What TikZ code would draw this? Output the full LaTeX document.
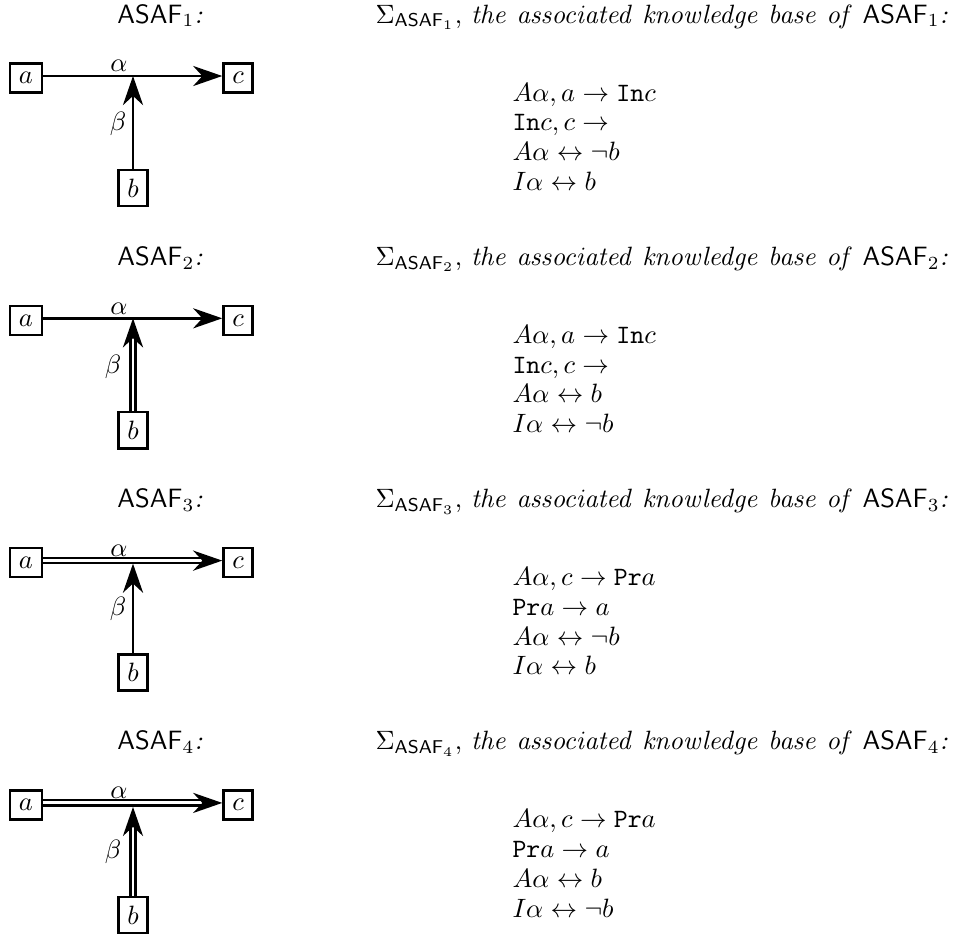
\documentclass[tikz,border=0pt]{standalone}
\usetikzlibrary{arrows.meta,calc}
\newcommand{\kbtitle}[1]{$\Sigma_{\mathsf{ASAF}_{#1}}$, $\mathit{the\ associated\ knowledge\ base\ of}$ $\mathsf{ASAF}_{#1}$\textit{:}}
\newcommand{\kbrows}[4]{\renewcommand{\arraystretch}{0.935}\begin{tabular}[t]{@{}l@{}}$#1$\\ $#2$\\ $#3$\\ $#4$\end{tabular}}
\begin{document}
\begin{tikzpicture}[x=0.3774pt,y=-0.3774pt,
  box/.style={draw,line width=0.9pt,inner sep=3.33pt},
  ln/.style={line width=0.9pt},
  dbl/.style={double,line width=0.9pt,double distance=1.1pt},
  tip/.style={-{Stealth[length=11pt,width=7.6pt,inset=3.5pt]}},
  lbl/.style={inner sep=0pt},
  ttl/.style={anchor=base,inner sep=0pt},
  kbt/.style={anchor=base west,inner sep=0pt},
  frm/.style={anchor=base west,inner sep=0pt}]
\useasboundingbox (0,0) rectangle (953,940);

% ---------- Panel 1 ----------
\begin{scope}
\coordinate (j1) at (133,76);
\node[box] (a1) at (26,78) {$a$};
\node[box] (c1) at (238,78) {$c$};
\node[box] (b1) at (133,188) {$b$};
\draw[ln,tip] (a1.east |- j1) -- (j1) -- (c1.west |- j1);
\draw[ln,tip] (b1.north) -- (j1);
\node[lbl] (al1) at (119,66) {$\alpha$};
\node[lbl] (be1) at (118,124) {$\beta$};
\node[ttl] (t1) at (160,23) {\textit{$\mathsf{ASAF}_1$:}};
\node[kbt] (s1) at (375,23) {\kbtitle{1}};
\node[frm] (f1) at (512,101) {\kbrows{A\alpha, a \rightarrow \mathtt{In}c}{\mathtt{In}c, c \rightarrow}{A\alpha \leftrightarrow \neg b}{I\alpha \leftrightarrow b}};
\end{scope}

% ---------- Panel 2 ----------
\begin{scope}[shift={(0,242.3)}]
\coordinate (j2) at (133,76);
\node[box] (a2) at (26,78) {$a$};
\node[box] (c2) at (238,78) {$c$};
\node[box] (b2) at (133,188) {$b$};
\draw[ln,tip] (a2.east |- j2) -- (j2) -- (c2.west |- j2);
\coordinate (n2) at ($(j2)+(0,20)$);
\draw[dbl] (b2.north) -- (n2);
\draw[ln,tip] (n2) -- (j2);
\node[lbl] (al2) at (119,66) {$\alpha$};
\node[lbl] (be2) at (113,125) {$\beta$};
\node[ttl] (t2) at (160,23) {\textit{$\mathsf{ASAF}_2$:}};
\node[kbt] (s2) at (375,23) {\kbtitle{2}};
\node[frm] (f2) at (512,101) {\kbrows{A\alpha, a \rightarrow \mathtt{In}c}{\mathtt{In}c, c \rightarrow}{A\alpha \leftrightarrow b}{I\alpha \leftrightarrow \neg b}};
\end{scope}

% ---------- Panel 3 ----------
\begin{scope}[shift={(0,484.6)}]
\coordinate (j3) at (133,76);
\node[box] (a3) at (26,78) {$a$};
\node[box] (c3) at (238,78) {$c$};
\node[box] (b3) at (133,188) {$b$};
\coordinate (m3) at ($(c3.west |- j3)+(-20,0)$);
\draw[dbl] (a3.east |- j3) -- (j3) -- (m3);
\draw[ln,tip] (m3) -- (c3.west |- j3);
\coordinate (k3) at ($(j3)+(0,3)$);
\draw[ln,tip] (b3.north) -- (k3);
\node[lbl] (al3) at (119,66) {$\alpha$};
\node[lbl] (be3) at (118,124) {$\beta$};
\node[ttl] (t3) at (160,23) {\textit{$\mathsf{ASAF}_3$:}};
\node[kbt] (s3) at (375,23) {\kbtitle{3}};
\node[frm] (f3) at (512,101) {\kbrows{A\alpha, c \rightarrow \mathtt{Pr}a}{\mathtt{Pr}a \rightarrow a}{A\alpha \leftrightarrow \neg b}{I\alpha \leftrightarrow b}};
\end{scope}

% ---------- Panel 4 ----------
\begin{scope}[shift={(0,726.9)}]
\coordinate (j4) at (133,76);
\node[box] (a4) at (26,78) {$a$};
\node[box] (c4) at (238,78) {$c$};
\node[box] (b4) at (133,188) {$b$};
\coordinate (m4) at ($(c4.west |- j4)+(-20,0)$);
\draw[dbl] (a4.east |- j4) -- (j4) -- (m4);
\draw[ln,tip] (m4) -- (c4.west |- j4);
\coordinate (k4) at ($(j4)+(0,4)$);
\coordinate (n4) at ($(k4)+(0,20)$);
\draw[dbl] (b4.north) -- (n4);
\draw[ln,tip] (n4) -- (k4);
\node[lbl] (al4) at (119,66) {$\alpha$};
\node[lbl] (be4) at (113,125) {$\beta$};
\node[ttl] (t4) at (160,23) {\textit{$\mathsf{ASAF}_4$:}};
\node[kbt] (s4) at (375,23) {\kbtitle{4}};
\node[frm] (f4) at (512,101) {\kbrows{A\alpha, c \rightarrow \mathtt{Pr}a}{\mathtt{Pr}a \rightarrow a}{A\alpha \leftrightarrow b}{I\alpha \leftrightarrow \neg b}};
\end{scope}
\end{tikzpicture}
\end{document}
